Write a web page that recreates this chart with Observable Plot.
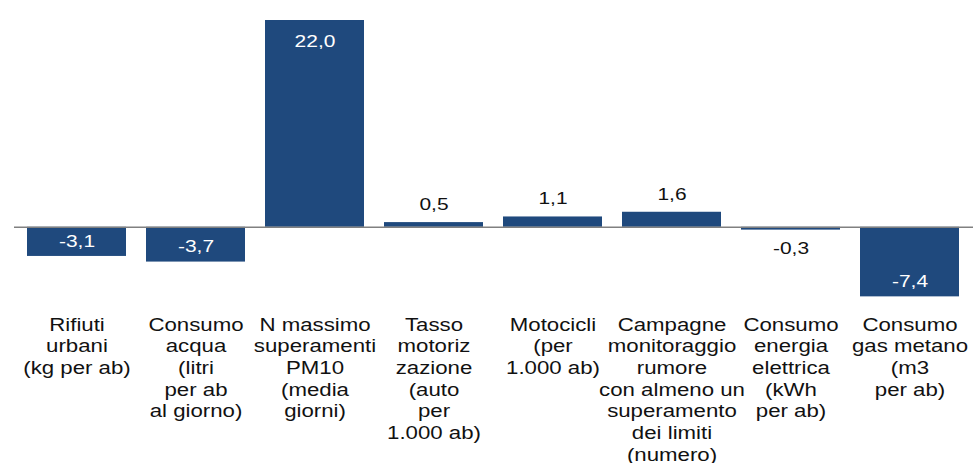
<!DOCTYPE html>
<html>
<head>
<meta charset="utf-8">
<script src="https://cdn.jsdelivr.net/npm/d3@7"></script>
<script src="https://cdn.jsdelivr.net/npm/@observablehq/plot@0.6"></script>
<style>
  html, body { margin: 0; padding: 0; background: #ffffff; }
  #chart { width: 973px; height: 463px; overflow: hidden; }
</style>
</head>
<body>
<div id="chart"></div>
<script>
const categories = [
  "Rifiuti\nurbani\n(kg per ab)",
  "Consumo\nacqua\n(litri\nper ab\nal giorno)",
  "N massimo\nsuperamenti\nPM10\n(media\ngiorni)",
  "Tasso\nmotoriz\nzazione\n(auto\nper\n1.000 ab)",
  "Motocicli\n(per\n1.000 ab)",
  "Campagne\nmonitoraggio\nrumore\ncon almeno un\nsuperamento\ndei limiti\n(numero)",
  "Consumo\nenergia\nelettrica\n(kWh\nper ab)",
  "Consumo\ngas metano\n(m3\nper ab)"
];
const values = [-3.1, -3.7, 22.0, 0.5, 1.1, 1.6, -0.3, -7.4];
const insideLabel = [true, true, true, false, false, false, false, true];

const fmt = v => d3.format(".1f")(v).replace(".", ",").replace("−", "-");
const data = categories.map((c, i) => ({cat: c, value: values[i], label: fmt(values[i]), inside: insideLabel[i]}));

const barColor = "#1f497d";
const font = "'Liberation Sans', Arial, sans-serif";

const chart = Plot.plot({
  width: 973,
  height: 463,
  marginLeft: 14,
  marginRight: 0,
  marginTop: 20,
  marginBottom: 161,
  style: {fontFamily: font, background: "#ffffff", color: "#000000"},
  x: {domain: categories, paddingInner: 1/6, paddingOuter: 0.08, label: null},
  y: {domain: [-8, 22], axis: null},
  marks: [
    Plot.barY(data, {x: "cat", y: "value", fill: barColor}),
    Plot.ruleY([0], {stroke: "#808080", strokeWidth: 1.5}),
    Plot.text(data, {filter: d => d.inside && d.value > 0, x: "cat", y: "value", text: "label", fill: "#ffffff", fontSize: 16.5, dy: 21}),
    Plot.text(data, {filter: d => d.inside && d.value < 0, x: "cat", y: "value", text: "label", fill: "#ffffff", fontSize: 16.5, dy: -15}),
    Plot.text(data, {filter: d => !d.inside && d.value > 0, x: "cat", y: "value", text: "label", fill: "#111111", fontSize: 16.5, dy: -18}),
    Plot.text(data, {filter: d => !d.inside && d.value < 0, x: "cat", y: "value", text: "label", fill: "#111111", fontSize: 16.5, dy: 19}),
    Plot.axisX({anchor: "bottom", tickSize: 0, tickPadding: 13, fontSize: 17.5, lineHeight: 1.235, fill: "#111111", label: null})
  ]
});

document.getElementById("chart").appendChild(chart);

// horizontal stretch of all text, as in the reference rendering
const sx = 1.27;
d3.select(chart).selectAll("text").each(function() {
  const t = this.getAttribute("transform");
  if (t) {
    this.setAttribute("transform", t + ` scale(${sx},1)`);
  } else {
    const x = +(this.getAttribute("x") || 0);
    this.setAttribute("transform", `translate(${x},0) scale(${sx},1) translate(${-x},0)`);
  }
});
</script>
</body>
</html>
